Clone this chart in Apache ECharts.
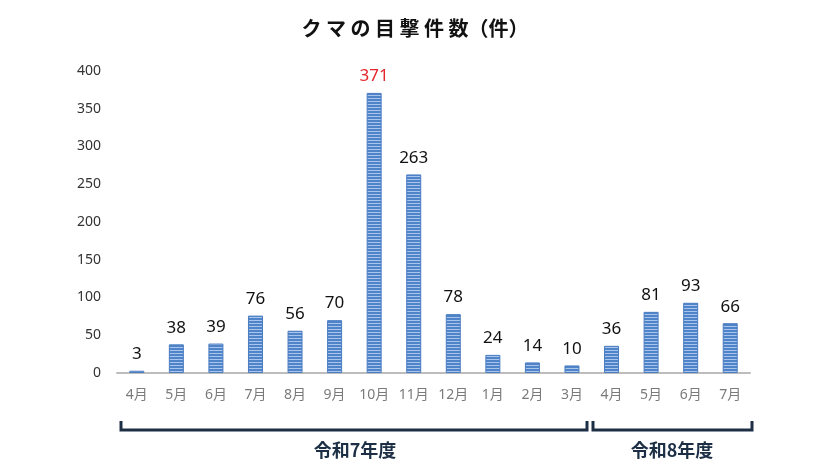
<!DOCTYPE html>
<html>
<head>
<meta charset="utf-8">
<script src="https://cdn.jsdelivr.net/npm/echarts@6/dist/echarts.min.js"></script>
<style>
  html, body { margin: 0; padding: 0; background: #fff; }
  #chart { width: 830px; height: 467px; }
</style>
</head>
<body>
<div id="chart"></div>
<script>
// 月ごとの目撃件数
const months = ['4月', '5月', '6月', '7月', '8月', '9月', '10月', '11月', '12月', '1月', '2月', '3月', '4月', '5月', '6月', '7月']
const sightings = [3, 38, 39, 76, 56, 70, 371, 263, 78, 24, 14, 10, 36, 81, 93, 66]
const yTicks = [0, 50, 100, 150, 200, 250, 300, 350, 400]
const fiscalYears = ['令和7年度', '令和8年度']

const fontFamily = '"Noto Sans", "Noto Sans CJK JP", sans-serif'

// 横縞の塗り
const stripe = document.createElement('canvas')
stripe.width = 4
stripe.height = 3
const ctx = stripe.getContext('2d')
ctx.fillStyle = '#5084c8'
ctx.fillRect(0, 0, 4, 2)
ctx.fillStyle = '#a9c5ee'
ctx.fillRect(0, 2, 4, 1)

const chart = echarts.init(document.getElementById('chart'))

const gridLeft = 117
const gridRight = 80

// 年度の括弧
const bracket = (x1, x2) => ({
  type: 'polyline',
  shape: { points: [[x1, 421], [x1, 430], [x2, 430], [x2, 421]] },
  style: { stroke: '#1c2f45', lineWidth: 3, fill: null }
})

chart.setOption({
  animation: false,
  title: {
    text: 'ク マ の 目 撃 件 数（件）',
    left: 'center',
    top: 13,
    textStyle: { fontFamily: '"Noto Sans CJK JP", sans-serif', fontSize: 20, fontWeight: 'bold', color: '#111' }
  },
  grid: { left: gridLeft, right: gridRight, top: 71, bottom: 94 },
  xAxis: {
    type: 'category',
    data: months,
    axisLine: { lineStyle: { color: '#bdbdbd', width: 2 } },
    axisTick: { show: false },
    axisLabel: { color: '#7a7a7a', fontSize: 14, margin: 15, fontFamily: fontFamily }
  },
  yAxis: {
    type: 'value',
    min: yTicks[0],
    max: yTicks[yTicks.length - 1],
    interval: 50,
    splitLine: { show: false },
    axisLine: { show: false },
    axisTick: { show: false },
    axisLabel: { color: '#333', fontSize: 14, margin: 16, fontFamily: fontFamily }
  },
  series: [{
    type: 'bar',
    barWidth: 15,
    data: sightings.map(v => v === Math.max(...sightings)
      ? { value: v, label: { color: '#e3262d' } }
      : v),
    itemStyle: {
      color: { image: stripe, repeat: 'repeat' },
      borderColor: '#4a7cc0',
      borderWidth: 1
    },
    label: {
      show: true,
      position: 'top',
      distance: 8,
      color: '#111',
      fontSize: 17,
      fontFamily: fontFamily
    }
  }],
  graphic: [
    bracket(121, 587),
    bracket(593, 752),
    {
      type: 'text',
      x: 355, y: 450,
      style: { text: fiscalYears[0], fill: '#1c2f45', font: 'bold 18px "Noto Sans CJK JP", sans-serif', align: 'center', verticalAlign: 'middle' }
    },
    {
      type: 'text',
      x: 672, y: 450,
      style: { text: fiscalYears[1], fill: '#1c2f45', font: 'bold 18px "Noto Sans CJK JP", sans-serif', align: 'center', verticalAlign: 'middle' }
    }
  ]
})
</script>
</body>
</html>
